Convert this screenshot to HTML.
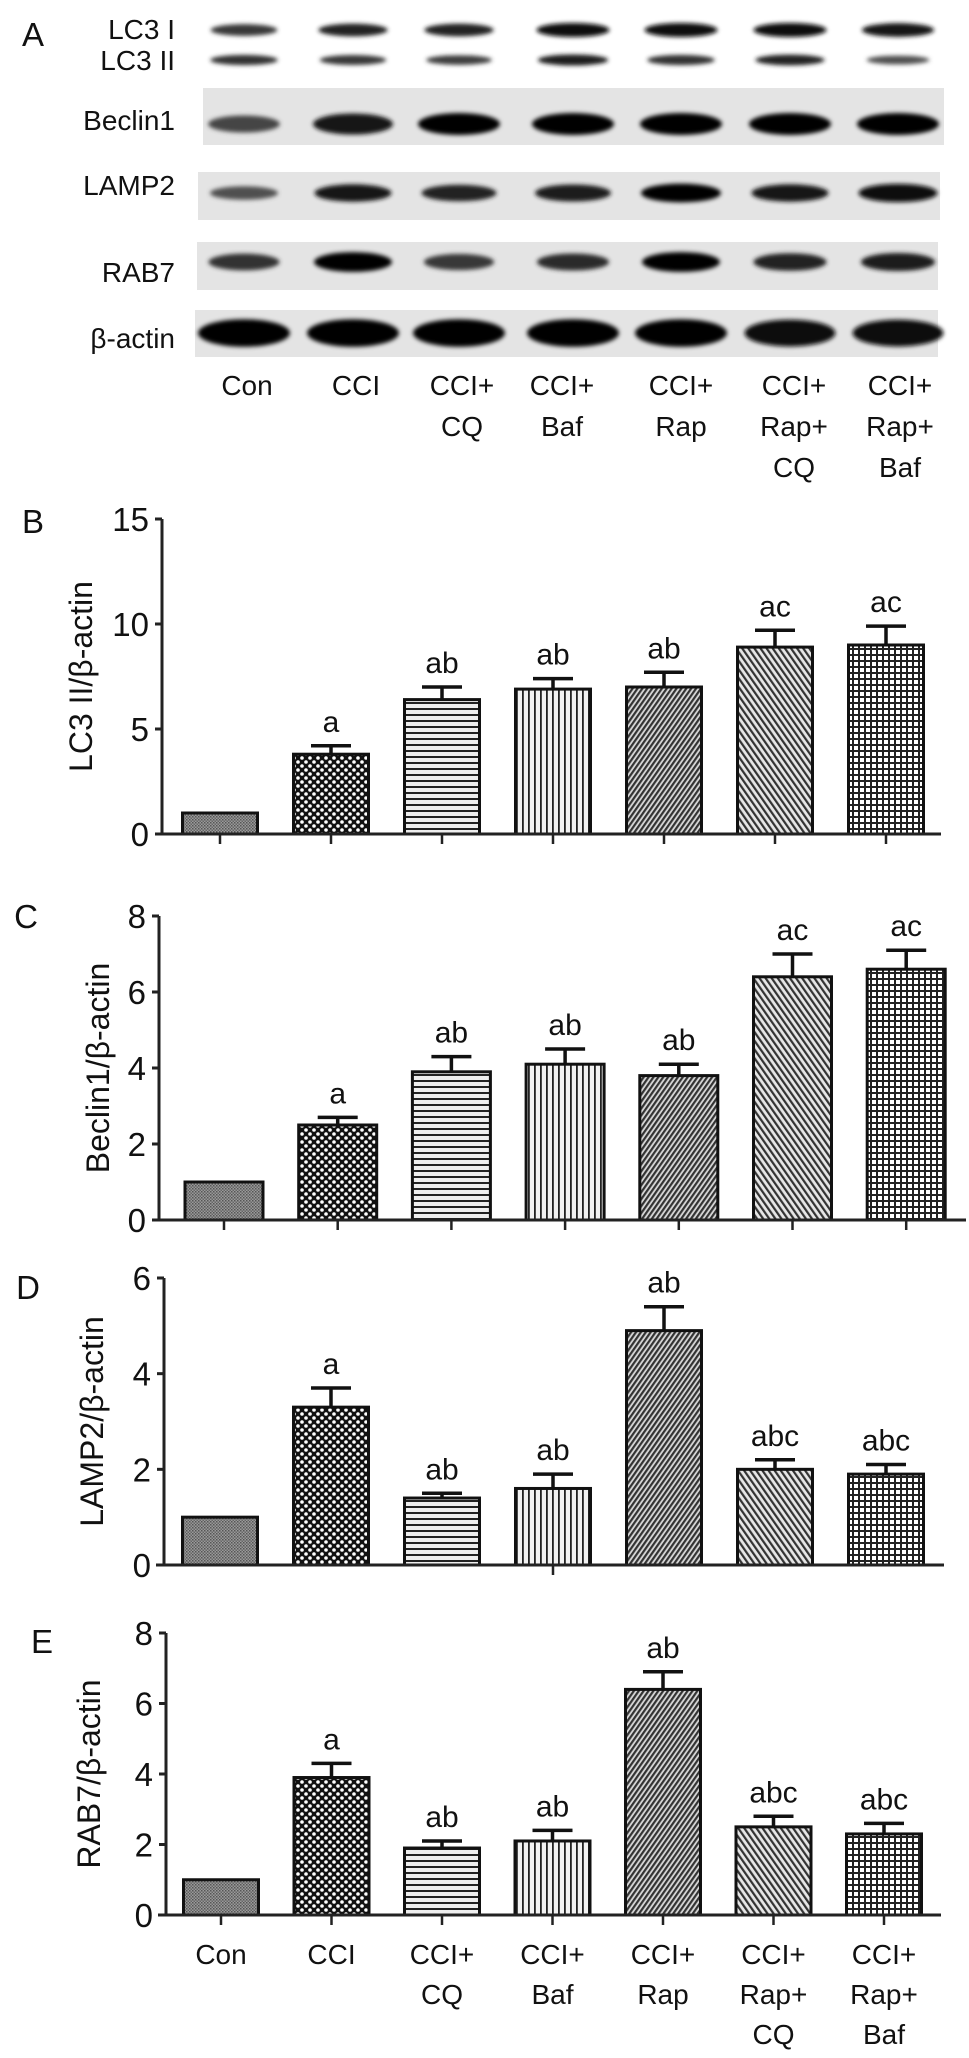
<!DOCTYPE html>
<html><head><meta charset="utf-8">
<style>
html,body{margin:0;padding:0;background:#fff;}
svg{display:block;}
text{font-family:"Liberation Sans",Arial,sans-serif;fill:#111;}
</style></head>
<body>
<svg id="fig" width="969" height="2058" viewBox="0 0 969 2058" xmlns="http://www.w3.org/2000/svg">
<defs>
  <filter id="blur2" x="-20%" y="-50%" width="140%" height="200%"><feGaussianBlur stdDeviation="2"/></filter>
  <pattern id="p0" width="3" height="3" patternUnits="userSpaceOnUse"><rect width="3" height="3" fill="#9a9a9a"/><rect width="1.5" height="1.5" fill="#555"/><rect x="1.5" y="1.5" width="1.5" height="1.5" fill="#666"/></pattern>
  <pattern id="p1" width="8" height="8" patternUnits="userSpaceOnUse"><rect width="8" height="8" fill="#111"/><circle cx="2" cy="2" r="1.8" fill="#fff"/><circle cx="6" cy="6" r="1.8" fill="#fff"/></pattern>
  <pattern id="p2" width="6" height="6" patternUnits="userSpaceOnUse"><rect width="6" height="6" fill="#eee"/><rect y="0" width="6" height="2" fill="#222"/></pattern>
  <pattern id="p3" width="6" height="6" patternUnits="userSpaceOnUse"><rect width="6" height="6" fill="#f2f2f2"/><rect x="0" width="1.8" height="6" fill="#222"/></pattern>
  <pattern id="p4" width="4" height="4" patternUnits="userSpaceOnUse" patternTransform="rotate(35)"><rect width="4" height="4" fill="#d8d8d8"/><rect width="2.2" height="4" fill="#333"/></pattern>
  <pattern id="p5" width="5" height="5" patternUnits="userSpaceOnUse" patternTransform="rotate(-35)"><rect width="5" height="5" fill="#e6e6e6"/><rect width="2.2" height="5" fill="#333"/></pattern>
  <pattern id="p6" width="6" height="6" patternUnits="userSpaceOnUse"><rect width="6" height="6" fill="#fff"/><rect width="6" height="2" fill="#222"/><rect width="2" height="6" fill="#222"/></pattern>
</defs>
<g id="blot"></g>
<g id="charts"></g>
</svg>
<script>
// ----- data -----
const categories = [["Con"],["CCI"],["CCI+","CQ"],["CCI+","Baf"],["CCI+","Rap"],["CCI+","Rap+","CQ"],["CCI+","Rap+","Baf"]];
const lc3Values = [1.0, 3.8, 6.4, 6.9, 7.0, 8.9, 9.0];
const lc3Errors = [0.0, 0.4, 0.6, 0.5, 0.7, 0.8, 0.9];
const lc3Labels = ["", "a", "ab", "ab", "ab", "ac", "ac"];
const lc3Ticks = [0, 5, 10, 15];
const beclinValues = [1.0, 2.5, 3.9, 4.1, 3.8, 6.4, 6.6];
const beclinErrors = [0.0, 0.2, 0.4, 0.4, 0.3, 0.6, 0.5];
const beclinLabels = ["", "a", "ab", "ab", "ab", "ac", "ac"];
const beclinTicks = [0, 2, 4, 6, 8];
const lampValues = [1.0, 3.3, 1.4, 1.6, 4.9, 2.0, 1.9];
const lampErrors = [0.0, 0.4, 0.1, 0.3, 0.5, 0.2, 0.2];
const lampLabels = ["", "a", "ab", "ab", "ab", "abc", "abc"];
const lampTicks = [0, 2, 4, 6];
const rabValues = [1.0, 3.9, 1.9, 2.1, 6.4, 2.5, 2.3];
const rabErrors = [0.0, 0.4, 0.2, 0.3, 0.5, 0.3, 0.3];
const rabLabels = ["", "a", "ab", "ab", "ab", "abc", "abc"];
const rabTicks = [0, 2, 4, 6, 8];
// blot band intensities (0-1) per row
const bandLC3I = [0.6, 0.75, 0.75, 0.95, 0.95, 0.95, 0.9];
const bandLC3II = [0.65, 0.6, 0.55, 0.8, 0.65, 0.75, 0.4];
const bandBeclin = [0.5, 0.9, 1, 1, 1, 1, 1];
const bandLamp = [0.4, 0.85, 0.75, 0.8, 1, 0.85, 0.95];
const bandRab = [0.65, 1, 0.6, 0.7, 1, 0.75, 0.8];
const bandActin = [1, 1, 1, 1, 1, 0.95, 0.95];

const NS = "http://www.w3.org/2000/svg";
function mk(tag, attrs, parent){
  const e = document.createElementNS(NS, tag);
  for (const k in attrs) e.setAttribute(k, attrs[k]);
  if (parent) parent.appendChild(e);
  return e;
}
function txt(parent, s, x, y, size, anchor){
  const t = mk("text", {x:x, y:y, "font-size":size, "text-anchor":anchor||"middle"}, parent);
  t.textContent = s;
  return t;
}

// ----- Panel A: blot -----
const blot = document.getElementById("blot");
const laneX = [244, 353, 459, 573, 681, 790, 898];
const lblA = txt(blot, "A", 33, 46, 33, "middle");


const rows = [
  {name:"LC3 I", y:30, h:13, w:74, bg:null, vals:bandLC3I, ly:39},
  {name:"LC3 II", y:60, h:11, w:74, bg:null, vals:bandLC3II, ly:70},
  {name:"Beclin1", y:124, h:20, w:82, bg:[203,88,944,145], vals:bandBeclin, ly:130},
  {name:"LAMP2", y:193, h:17, w:80, bg:[198,172,940,220], vals:bandLamp, ly:195},
  {name:"RAB7", y:262, h:18, w:78, bg:[197,242,938,290], vals:bandRab, ly:282},
  {name:"β-actin", y:333, h:25, w:92, bg:[195,310,938,357], vals:bandActin, ly:348}
];
rows.forEach(function(r){
  const g = mk("g", {}, blot);
  
  
  if (r.bg){
    mk("rect", {x:r.bg[0], y:r.bg[1], width:r.bg[2]-r.bg[0], height:r.bg[3]-r.bg[1], fill:"#e4e4e4"}, g);
  }
  r.vals.forEach(function(v, i){
    const shade = Math.round(130 - 125*v);
    const b = mk("ellipse", {cx:laneX[i], cy:r.y, rx:r.w/2*(0.75+0.25*v), ry:r.h/2*(0.6+0.5*v),
      fill:"rgb("+shade+","+shade+","+shade+")", filter:"url(#blur2)"}, g);
    
    
  });
  const l = txt(g, r.name, 175, r.ly, 28, "end");
  
  
});
const laneLblX = [247, 356, 462, 562, 681, 794, 900];
categories.forEach(function(c, i){
  c.forEach(function(s, j){
    const t = txt(blot, s, laneLblX[i], 395 + j*41, 28, "middle");
    
    
  });
});

// ----- Charts -----
const charts = document.getElementById("charts");
function chart(cfg, values, errors, labels, ticks){
  const g = mk("g", {}, charts);
  
  
  const maxV = ticks[ticks.length-1];
  const yS = function(v){ return cfg.y0 - (v/maxV)*(cfg.y0 - cfg.yTop); };
  const xS = function(i){ return cfg.c0 + i*cfg.step; };
  const pl = txt(g, cfg.letter, cfg.lx, cfg.ly, 33, "middle");
  
  
  const yt = mk("text", {x:0, y:0, "font-size":32, "text-anchor":"middle",
    transform:"translate("+cfg.tx+","+((cfg.y0+cfg.yTop)/2)+") rotate(-90)"}, g);
  yt.textContent = cfg.title;
  
  
  values.forEach(function(v, i){
    const x = xS(i), top = yS(v);
    const bar = mk("rect", {x:x-cfg.bw/2, y:top, width:cfg.bw, height:cfg.y0-top,
      fill:"url(#p"+i+")", stroke:"#111", "stroke-width":3}, g);
    
    
    if (errors[i] > 0){
      const et = yS(v + errors[i]);
      const el = mk("path", {d:"M"+x+" "+top+" V"+et+" M"+(x-20)+" "+et+" H"+(x+20), stroke:"#111", "stroke-width":3.5, fill:"none"}, g);
      
      
    }
    if (labels[i]){
      const at = txt(g, labels[i], x, yS(v + errors[i]) - 14, 30, "middle");
      
      
    }
  });
  const ya = mk("line", {x1:cfg.ax, y1:cfg.yTop, x2:cfg.ax, y2:cfg.y0, stroke:"#222", "stroke-width":3}, g);
  
  
  const xa = mk("line", {x1:cfg.xs, y1:cfg.y0, x2:cfg.xe, y2:cfg.y0, stroke:"#222", "stroke-width":3}, g);
  
  
  ticks.forEach(function(t){
    const y = yS(t);
    mk("line", {x1:cfg.ax-7, y1:y, x2:cfg.ax, y2:y, stroke:"#222", "stroke-width":3}, g);
    const tl = txt(g, String(t), cfg.ax-13, y+12, 33, "end");
    
    
  });
  values.forEach(function(v, i){
    if (cfg.xticks === "all" || cfg.xticks === i){
      mk("line", {x1:xS(i), y1:cfg.y0, x2:xS(i), y2:cfg.y0+10, stroke:"#222", "stroke-width":2.5}, g);
    }
  });
  if (cfg.catLabels){
    categories.forEach(function(c, i){
      c.forEach(function(s, j){
        const t = txt(g, s, xS(i), 1964 + j*40, 28, "middle");
        
        
      });
    });
  }
}
chart({name:"chart-lc3", letter:"B", lx:33, ly:533, title:"LC3 II/β-actin", tx:92, ax:162, y0:834, yTop:519,
  xs:156, xe:941, c0:220, step:111, bw:75, xticks:"all"}, lc3Values, lc3Errors, lc3Labels, lc3Ticks);
chart({name:"chart-beclin1", letter:"C", lx:26, ly:928, title:"Beclin1/β-actin", tx:109, ax:159, y0:1220, yTop:916,
  xs:153, xe:966, c0:224, step:113.7, bw:78, xticks:"all"}, beclinValues, beclinErrors, beclinLabels, beclinTicks);
chart({name:"chart-lamp2", letter:"D", lx:28, ly:1299, title:"LAMP2/β-actin", tx:103, ax:164, y0:1565, yTop:1278,
  xs:156, xe:944, c0:220, step:111, bw:75, xticks:3}, lampValues, lampErrors, lampLabels, lampTicks);
chart({name:"chart-rab7", letter:"E", lx:42, ly:1653, title:"RAB7/β-actin", tx:100, ax:166, y0:1915, yTop:1633,
  xs:158, xe:941, c0:221, step:110.5, bw:75, xticks:"all", catLabels:true}, rabValues, rabErrors, rabLabels, rabTicks);
</script>
</body></html>
